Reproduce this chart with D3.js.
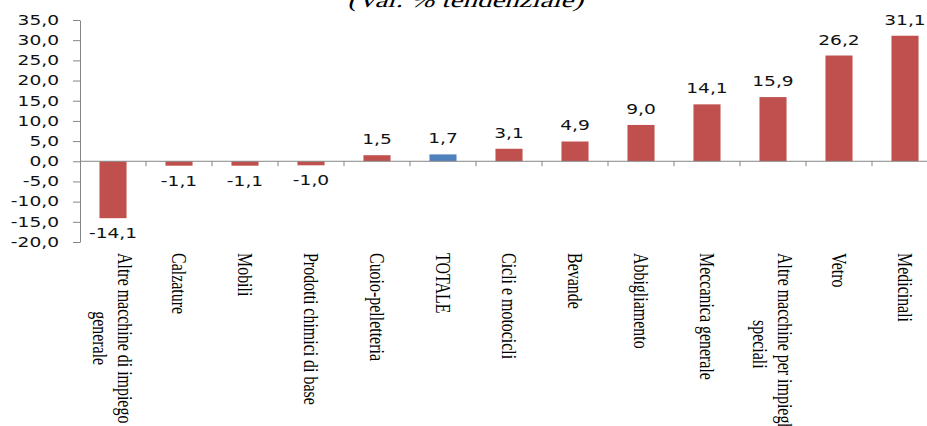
<!DOCTYPE html>
<html>
<head>
<meta charset="utf-8">
<script src="https://cdn.jsdelivr.net/npm/d3@7"></script>
<style>
  body { margin: 0; background: #fff; }
  svg { display: block; }
</style>
</head>
<body>
<div id="chart"></div>
<script>
// data
var categories = [
  'Altre macchine di impiego generale', 'Calzature', 'Mobili', 'Prodotti chimici di base',
  'Cuoio-pelletteria', 'TOTALE', 'Cicli e motocicli', 'Bevande', 'Abbigliamento',
  'Meccanica generale', 'Altre macchine per impieghi speciali', 'Vetro', 'Medicinali'
];
// how each category label is broken into lines
var labelLines = [
  ['Altre macchine di impiego', 'generale'], ['Calzature'], ['Mobili'], ['Prodotti chimici di base'],
  ['Cuoio-pelletteria'], ['TOTALE'], ['Cicli e motocicli'], ['Bevande'], ['Abbigliamento'],
  ['Meccanica generale'], ['Altre macchine per impieghi', 'speciali'], ['Vetro'], ['Medicinali']
];
var values = [-14.1, -1.1, -1.1, -1.0, 1.5, 1.7, 3.1, 4.9, 9.0, 14.1, 15.9, 26.2, 31.1];
var yTicks = [-20, -15, -10, -5, 0, 5, 10, 15, 20, 25, 30, 35];
var title = '(Var. % tendenziale)';

(function() {
  var W = 927, H = 426;
  var stretch = 1.38; // the source picture is stretched sideways

  var svg = d3.select('#chart').append('svg')
    .attr('width', W)
    .attr('height', H);

  // plot area runs past the right edge, the reference is cropped
  var pLeft = 80, pRight = 938, pTop = 20, pBottom = 242;

  var x = d3.scaleBand().domain(categories).range([pLeft, pRight])
    .paddingInner(0.59).paddingOuter(0.295);
  var xb = d3.scaleBand().domain(categories).range([pLeft, pRight]).padding(0);
  var y = d3.scaleLinear().domain([-20, 35]).range([pBottom, pTop]);

  // italian decimals, plain hyphen for the minus
  var itFmt = d3.formatLocale({ decimal: ',', thousands: '.', grouping: [3], currency: ['', ' €'], minus: '-' }).format('.1f');
  var fmt = function(v) { return itFmt(v); };

  // title, mostly cut off at the top (serif slanted by hand)
  svg.append('text')
    .attr('transform', 'translate(465,7) scale(' + stretch + ',1) skewX(-14)')
    .attr('text-anchor', 'middle')
    .attr('font-family', 'Liberation Serif')
    .attr('font-size', 21)
    .attr('fill', '#000')
    .text(title);

  // y axis
  var yAxis = svg.append('g')
    .attr('transform', 'translate(' + pLeft + ',0)')
    .call(d3.axisLeft(y).tickValues(yTicks).tickFormat(fmt).tickSize(7).tickSizeOuter(0));
  yAxis.select('.domain').attr('stroke', '#868686');
  yAxis.selectAll('.tick line').attr('stroke', '#868686');
  yAxis.selectAll('.tick text')
    .attr('x', -21 / stretch)
    .attr('transform', 'scale(' + stretch + ',1)')
    .attr('font-family', 'DejaVu Sans')
    .attr('font-size', 13.5)
    .attr('fill', '#111');

  // bars
  svg.selectAll('rect.bar')
    .data(values)
    .enter().append('rect')
    .attr('class', 'bar')
    .attr('x', function(d, i) { return x(categories[i]); })
    .attr('width', x.bandwidth())
    .attr('y', function(d) { return y(Math.max(0, d)); })
    .attr('height', function(d) { return Math.abs(y(d) - y(0)); })
    .attr('fill', function(d, i) { return categories[i] === 'TOTALE' ? '#4F81BD' : '#C0504D'; });

  // zero line and category ticks
  svg.append('line')
    .attr('x1', pLeft).attr('x2', pRight)
    .attr('y1', y(0)).attr('y2', y(0))
    .attr('stroke', '#868686');
  var bounds = categories.map(function(c) { return xb(c); }).concat([pRight]);
  svg.selectAll('line.xtick')
    .data(bounds.slice(1))
    .enter().append('line')
    .attr('class', 'xtick')
    .attr('x1', function(d) { return d; }).attr('x2', function(d) { return d; })
    .attr('y1', y(0)).attr('y2', y(0) + 5)
    .attr('stroke', '#868686');

  // value labels
  svg.selectAll('text.val')
    .data(values)
    .enter().append('text')
    .attr('class', 'val')
    .attr('transform', function(d, i) {
      var cx = x(categories[i]) + x.bandwidth() / 2;
      var ty = d >= 0 ? y(d) - 11 : y(d) + 20;
      return 'translate(' + cx + ',' + ty + ') scale(' + stretch + ',1)';
    })
    .attr('text-anchor', 'middle')
    .attr('font-family', 'DejaVu Sans')
    .attr('font-size', 13.5)
    .attr('fill', '#111')
    .text(fmt);

  // rotated category labels, squeezed along their length
  var lh = 25;
  var labels = svg.selectAll('g.cat')
    .data(categories)
    .enter().append('g')
    .attr('class', 'cat')
    .attr('transform', function(c) {
      return 'translate(' + (xb(c) + xb.bandwidth() / 2) + ',253) rotate(90) scale(' + (1 / stretch) + ',1)';
    });

  labels.each(function(c, i) {
    var g = d3.select(this);
    var lines = labelLines[i];
    var n = lines.length;
    var texts = g.selectAll('text')
      .data(lines)
      .enter().append('text')
      .attr('font-family', 'Liberation Serif')
      .attr('font-size', 22)
      .attr('fill', '#000')
      .attr('text-anchor', 'middle')
      .attr('y', function(d, k) { return (k - (n - 1) / 2) * lh; })
      .attr('dy', '0.32em')
      .text(function(d) { return d; });
    var maxLen = d3.max(texts.nodes(), function(t) { return t.getComputedTextLength(); });
    texts.attr('x', maxLen / 2);
  });
})();
</script>
</body>
</html>
